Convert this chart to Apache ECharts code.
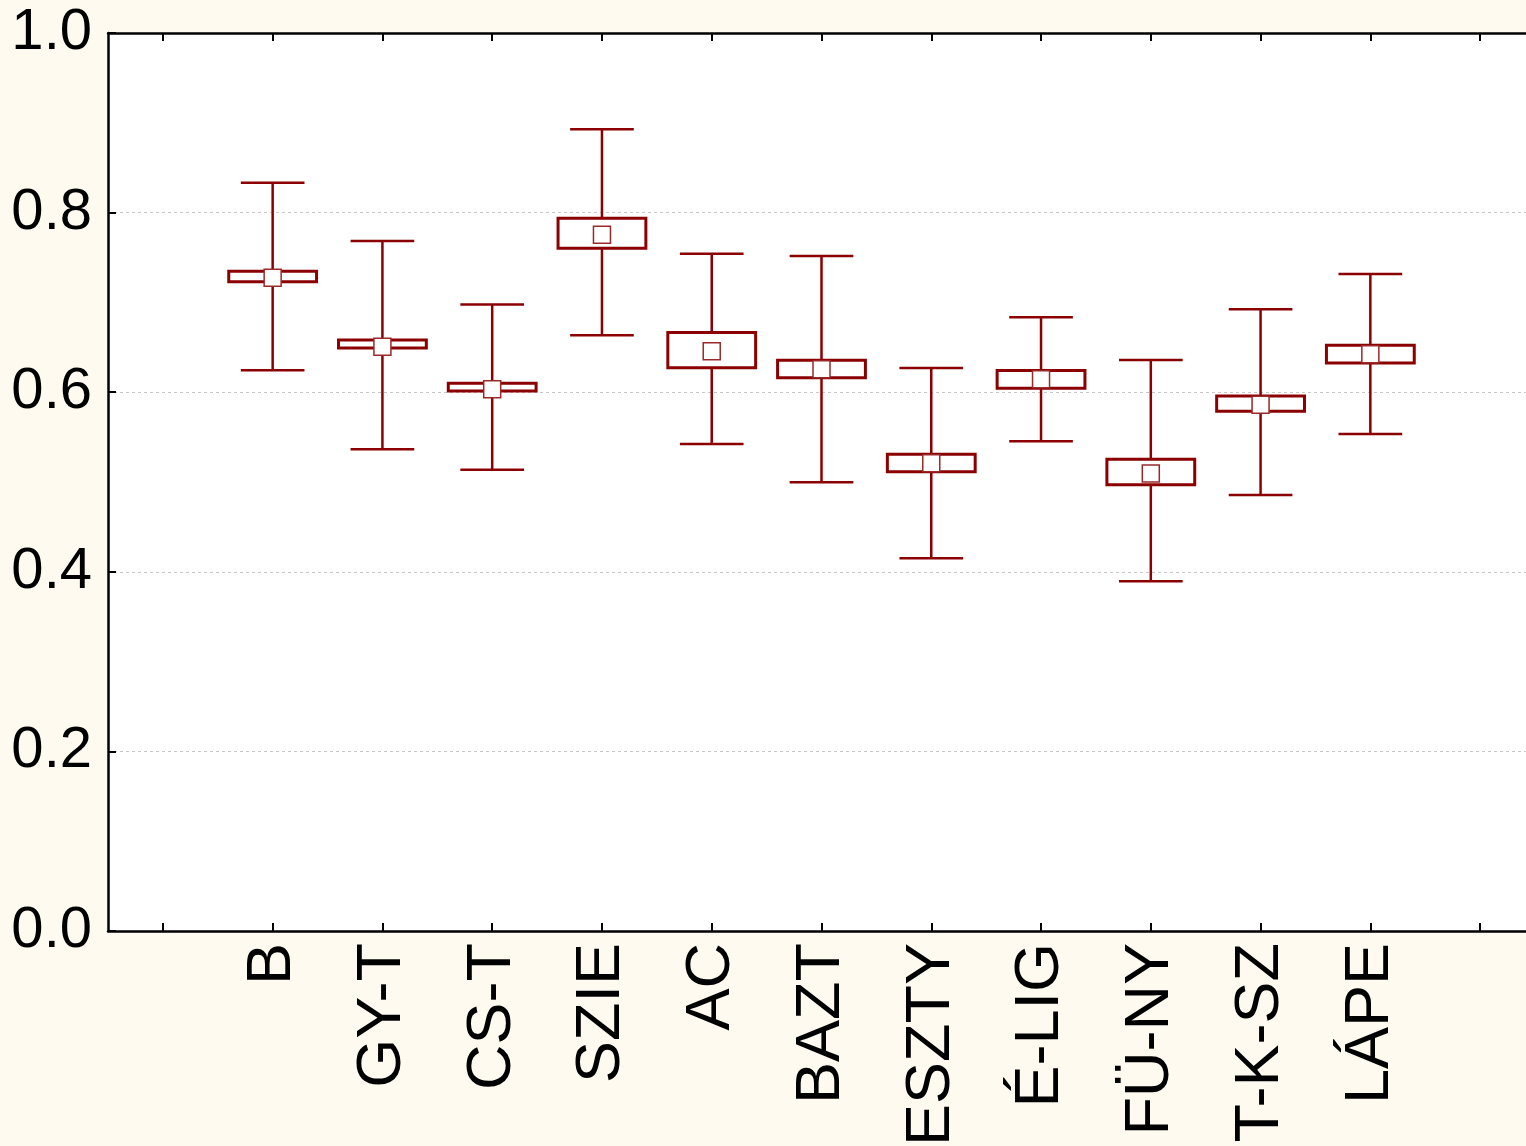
<!DOCTYPE html>
<html>
<head>
<meta charset="utf-8">
<script src="https://cdn.jsdelivr.net/npm/echarts@6/dist/echarts.min.js"></script>
<style>
html,body{margin:0;padding:0;background:#FFFAEF;overflow:hidden;}
#c{width:1526px;height:1146px;}
</style>
</head>
<body>
<div id="c"></div>
<script>
const categories = ['B','GY-T','CS-T','SZIE','AC','BAZT','ESZTY','É-LIG','FÜ-NY','T-K-SZ','LÁPE'];
const means      = [0.7275,0.6507,0.6032,0.7754,0.6455,0.6255,0.5208,0.6143,0.5096,0.5861,0.6422];
const boxLow     = [0.7231,0.6492,0.6013,0.7602,0.6273,0.6162,0.5115,0.6043,0.4970,0.5787,0.6325];
const boxHigh    = [0.7346,0.6581,0.6099,0.7936,0.6666,0.6355,0.5308,0.6243,0.5252,0.5958,0.6522];
const whiskLow   = [0.6244,0.5364,0.5137,0.6633,0.5423,0.4997,0.4150,0.5453,0.3894,0.4855,0.5535];
const whiskHigh  = [0.8333,0.7684,0.6978,0.8927,0.7543,0.7517,0.6269,0.6834,0.6359,0.6923,0.7316];
const yTicks     = [0.0,0.2,0.4,0.6,0.8,1.0];

const axisCats = [''].concat(categories).concat(['']);
const data = categories.map((c,i)=>[i+1, whiskLow[i], boxLow[i], means[i], boxHigh[i], whiskHigh[i]]);
const RED = '#8B0000';

const chart = echarts.init(document.getElementById('c'), null, {renderer:'canvas'});
chart.setOption({
  backgroundColor:'#FFFAEF',
  animation:false,
  grid:{left:108, top:33, width:1427, height:898, show:true, backgroundColor:'#ffffff', borderWidth:0,
        containLabel:false, outerBoundsMode:'none'},
  xAxis:[{
    type:'category', data:axisCats, position:'bottom',
    axisLine:{show:true, lineStyle:{color:'#000', width:2.5}},
    axisTick:{show:true, inside:true, alignWithLabel:true, interval:0, length:8, lineStyle:{color:'#000', width:2}},
    axisLabel:{show:true, interval:0, rotate:90, margin:12, fontSize:63, fontFamily:'Liberation Sans, Arial, sans-serif', color:'#000'},
    splitLine:{show:false}
  },{
    type:'category', data:axisCats, position:'top',
    axisLine:{show:true, lineStyle:{color:'#000', width:2.5}},
    axisTick:{show:true, inside:true, alignWithLabel:true, interval:0, length:8, lineStyle:{color:'#000', width:2}},
    axisLabel:{show:false},
    splitLine:{show:false}
  }],
  yAxis:{
    type:'value', min:yTicks[0], max:yTicks[yTicks.length-1], interval:0.2,
    axisLine:{show:true, lineStyle:{color:'#000', width:2.5}},
    axisTick:{show:true, inside:true, length:8, lineStyle:{color:'#000', width:2}},
    axisLabel:{margin:16, fontSize:58, fontFamily:'Liberation Sans, Arial, sans-serif', color:'#000',
      formatter:v=>v.toFixed(1)},
    splitLine:{show:true, lineStyle:{color:'#c8c8c8', type:[3,3], width:1}}
  },
  series:[{
    type:'custom',
    xAxisIndex:0,
    data:data,
    clip:false,
    renderItem:function(params, api){
      const x = api.value(0);
      const band = api.size([1,0])[0];
      const pWL = api.coord([x, api.value(1)]);
      const pBL = api.coord([x, api.value(2)]);
      const pM  = api.coord([x, api.value(3)]);
      const pBH = api.coord([x, api.value(4)]);
      const pWH = api.coord([x, api.value(5)]);
      const cx = pM[0];
      const boxW = band*0.8;
      const capW = band*0.58;
      const ms = 17;
      const lineStyle = {stroke:RED, lineWidth:2.5};
      return {type:'group', children:[
        {type:'line', shape:{x1:cx, y1:pWL[1], x2:cx, y2:pWH[1]}, style:lineStyle},
        {type:'line', shape:{x1:cx-capW/2, y1:pWL[1], x2:cx+capW/2, y2:pWL[1]}, style:lineStyle},
        {type:'line', shape:{x1:cx-capW/2, y1:pWH[1], x2:cx+capW/2, y2:pWH[1]}, style:lineStyle},
        {type:'rect', shape:{x:cx-boxW/2, y:pBH[1], width:boxW, height:pBL[1]-pBH[1]},
          style:{fill:'#ffffff', stroke:RED, lineWidth:3}},
        {type:'rect', shape:{x:cx-ms/2, y:pM[1]-ms/2, width:ms, height:ms},
          style:{fill:'#ffffff', stroke:'#9a2a2a', lineWidth:1.5}}
      ]};
    }
  }]
});
</script>
</body>
</html>
